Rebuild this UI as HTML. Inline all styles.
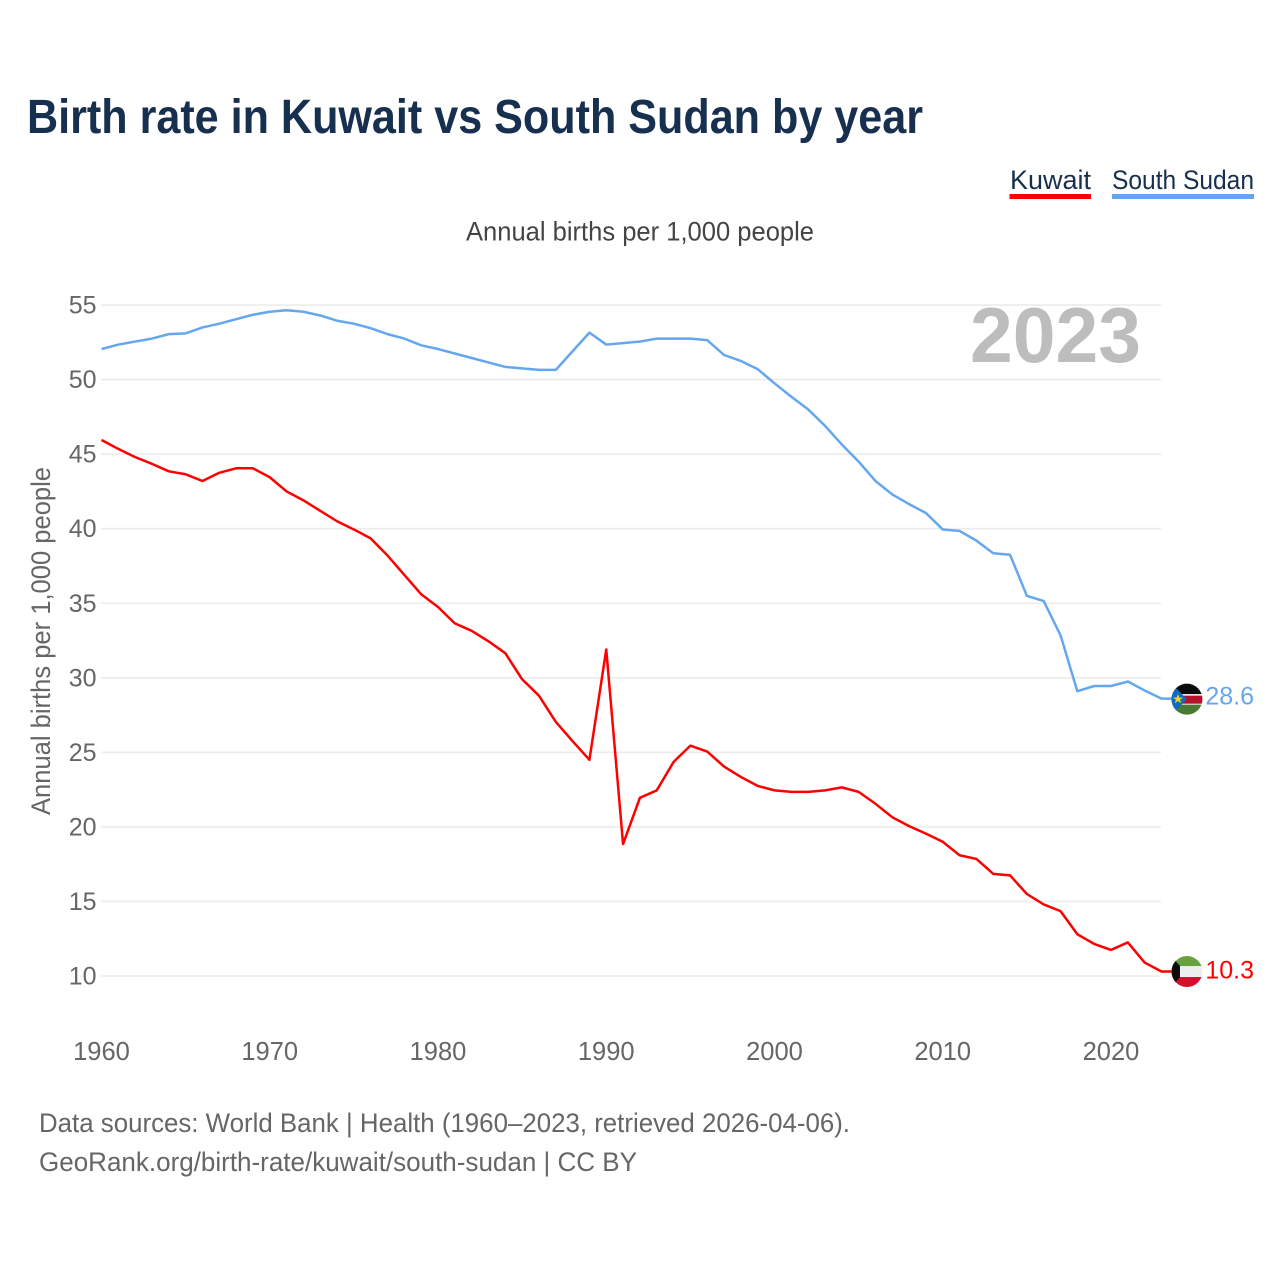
<!DOCTYPE html>
<html lang="en">
<head>
<meta charset="utf-8">
<title>Birth rate in Kuwait vs South Sudan by year</title>
<style>
html,body{margin:0;padding:0;background:#fff;}
svg{display:block;font-family:"Liberation Sans",sans-serif;}
</style>
</head>
<body>
<svg id="chart" xmlns="http://www.w3.org/2000/svg" width="1280" height="1280" viewBox="0 0 1280 1280">
  <defs>
    <clipPath id="flag-clip"><circle cx="0" cy="0" r="15.5"/></clipPath>
  </defs>
  <rect x="0" y="0" width="1280" height="1280" fill="#ffffff"/>
  <text x="27" y="133" font-size="48" font-weight="700" fill="#17304f" textLength="896" lengthAdjust="spacingAndGlyphs">Birth rate in Kuwait vs South Sudan by year</text>

  <g>
    <g>
      <text x="1010" y="189" font-size="27" fill="#17304f" textLength="81" lengthAdjust="spacingAndGlyphs">Kuwait</text>
      <rect x="1009.5" y="194" width="81.5" height="5" fill="#ff0000"/>
    </g>
    <g>
      <text x="1112" y="189" font-size="27" fill="#17304f" textLength="142" lengthAdjust="spacingAndGlyphs">South Sudan</text>
      <rect x="1112" y="194" width="142" height="5" fill="#64a7ee"/>
    </g>
  </g>

  <text x="466" y="240.5" font-size="27" fill="#444444" textLength="348" lengthAdjust="spacingAndGlyphs">Annual births per 1,000 people</text>
  <text transform="translate(50,815) rotate(-90)" x="0" y="0" font-size="27" fill="#666666" textLength="348" lengthAdjust="spacingAndGlyphs">Annual births per 1,000 people</text>

  <g id="grid"></g>
  <g id="y-ticks"></g>
  <g id="x-ticks"></g>

  <text x="970" y="362" font-size="78" font-weight="700" fill="#bdbdbd" textLength="171" lengthAdjust="spacingAndGlyphs">2023</text>

  <g id="series"></g>

  <g id="flag-south-sudan">
    <g clip-path="url(#flag-clip)">
      <rect x="-16" y="-16" width="32" height="11" fill="#0b0b0b"/>
      <rect x="-16" y="-5" width="32" height="11" fill="#f2f2f2"/>
      <rect x="-16" y="-3.5" width="32" height="8" fill="#b5122b"/>
      <rect x="-16" y="5.5" width="32" height="11" fill="#4a7a32"/>
      <polygon points="-16,-16 0,0 -16,16" fill="#0f6cc0"/>
      <polygon points="-9,-5 -7.6,-1.6 -4,-1.6 -6.9,0.6 -5.8,4 -9,2 -12.2,4 -11.1,0.6 -14,-1.6 -10.4,-1.6" fill="#f5d028"/>
    </g>
  </g>
  <g id="flag-kuwait">
    <g clip-path="url(#flag-clip)">
      <rect x="-16" y="-16" width="32" height="11" fill="#69a040"/>
      <rect x="-16" y="-5.5" width="32" height="11" fill="#eeeeee"/>
      <rect x="-16" y="5.5" width="32" height="11" fill="#d2102c"/>
      <polygon points="-16,-16 -7,-5.5 -7,5.5 -16,16" fill="#0a0a0a"/>
    </g>
  </g>

  <g id="end-labels"></g>

  <text x="39" y="1132" font-size="27" fill="#666666" textLength="811" lengthAdjust="spacingAndGlyphs">Data sources: World Bank | Health (1960–2023, retrieved 2026-04-06).</text>
  <text x="39" y="1171" font-size="27" fill="#666666" textLength="598" lengthAdjust="spacingAndGlyphs">GeoRank.org/birth-rate/kuwait/south-sudan | CC BY</text>
</svg>

<script>
const years = [1960,1961,1962,1963,1964,1965,1966,1967,1968,1969,1970,1971,1972,1973,1974,1975,1976,1977,1978,1979,1980,1981,1982,1983,1984,1985,1986,1987,1988,1989,1990,1991,1992,1993,1994,1995,1996,1997,1998,1999,2000,2001,2002,2003,2004,2005,2006,2007,2008,2009,2010,2011,2012,2013,2014,2015,2016,2017,2018,2019,2020,2021,2022,2023];
const kuwaitValues = [45.95,45.35,44.8,44.35,43.85,43.65,43.2,43.75,44.05,44.05,43.45,42.5,41.9,41.2,40.5,39.95,39.35,38.2,36.9,35.6,34.75,33.65,33.15,32.45,31.65,29.9,28.8,27.05,25.75,24.5,31.9,18.85,21.95,22.45,24.35,25.45,25.05,24.05,23.35,22.75,22.45,22.35,22.35,22.45,22.65,22.35,21.55,20.65,20.05,19.55,19.0,18.1,17.85,16.85,16.75,15.5,14.8,14.35,12.8,12.15,11.75,12.25,10.9,10.3];
const southSudanValues = [52.05,52.35,52.55,52.75,53.05,53.1,53.5,53.75,54.05,54.35,54.55,54.65,54.55,54.3,53.95,53.75,53.45,53.05,52.75,52.3,52.05,51.75,51.45,51.15,50.85,50.75,50.65,50.65,51.9,53.15,52.35,52.45,52.55,52.75,52.75,52.75,52.65,51.65,51.25,50.7,49.75,48.85,48.0,46.9,45.65,44.5,43.2,42.3,41.65,41.05,39.95,39.85,39.2,38.35,38.25,35.5,35.15,32.85,29.1,29.45,29.45,29.75,29.15,28.6];
const yTickValues = [10,15,20,25,30,35,40,45,50,55];
const xTickValues = [1960,1970,1980,1990,2000,2010,2020];

const SVG_NS = 'http://www.w3.org/2000/svg';
function xScale(year){ return 101.5 + (year - 1960) * 16.825; }
function yScale(value){ return 976 - (value - 10) * 14.91; }
function make(tag, attrs, parent){
  const el = document.createElementNS(SVG_NS, tag);
  for (const k in attrs) el.setAttribute(k, attrs[k]);
  parent.appendChild(el);
  return el;
}

const gridLayer = document.getElementById('grid');
const yTickLayer = document.getElementById('y-ticks');
const xTickLayer = document.getElementById('x-ticks');
const seriesLayer = document.getElementById('series');
const labelLayer = document.getElementById('end-labels');

yTickValues.forEach(function(v){
  const line = make('line', {x1:101, x2:1161, y1:yScale(v), y2:yScale(v), stroke:'#ececec', 'stroke-width':1.6}, gridLayer);
  
  
  const label = make('text', {x:96.5, y:yScale(v)+8.5, 'text-anchor':'end', 'font-size':25, fill:'#666666'}, yTickLayer);
  
  
  label.textContent = v;
});

xTickValues.forEach(function(t){
  const label = make('text', {x:xScale(t), y:1060, 'text-anchor':'middle', 'font-size':25.5, fill:'#666666'}, xTickLayer);
  
  
  label.textContent = t;
});

function pathFor(values){
  const lastIndex = values.length - 1;
  const pts = values.map(function(v, i){
    return (i ? 'L' : 'M') + xScale(years[i]).toFixed(2) + ' ' + yScale(v).toFixed(2);
  });
  pts.push('L' + (xScale(years[lastIndex]) + 10).toFixed(2) + ' ' + yScale(values[lastIndex]).toFixed(2));
  return pts.join(' ');
}

const kuwaitLine = make('path', {d:pathFor(kuwaitValues), fill:'none', stroke:'#ff0000', 'stroke-width':2.5, 'stroke-linejoin':'round'}, seriesLayer);



const southSudanLine = make('path', {d:pathFor(southSudanValues), fill:'none', stroke:'#64a7ee', 'stroke-width':2.5, 'stroke-linejoin':'round'}, seriesLayer);



const kuwaitLast = kuwaitValues[kuwaitValues.length - 1];
const southSudanLast = southSudanValues[southSudanValues.length - 1];
const lastX = xScale(years[years.length - 1]);

document.getElementById('flag-kuwait').setAttribute('transform', 'translate(' + (lastX + 25.5) + ',' + yScale(kuwaitLast) + ')');
document.getElementById('flag-south-sudan').setAttribute('transform', 'translate(' + (lastX + 25.5) + ',' + (yScale(southSudanLast) + 0.5) + ')');

const kuwaitLabel = make('text', {x:1254, y:yScale(kuwaitLast)+7, 'text-anchor':'end', 'font-size':25, fill:'#ff0000'}, labelLayer);


kuwaitLabel.textContent = kuwaitLast.toFixed(1);

const southSudanLabel = make('text', {x:1254, y:yScale(southSudanLast)+6, 'text-anchor':'end', 'font-size':25, fill:'#64a7ee'}, labelLayer);


southSudanLabel.textContent = southSudanLast.toFixed(1);
</script>
</body>
</html>
